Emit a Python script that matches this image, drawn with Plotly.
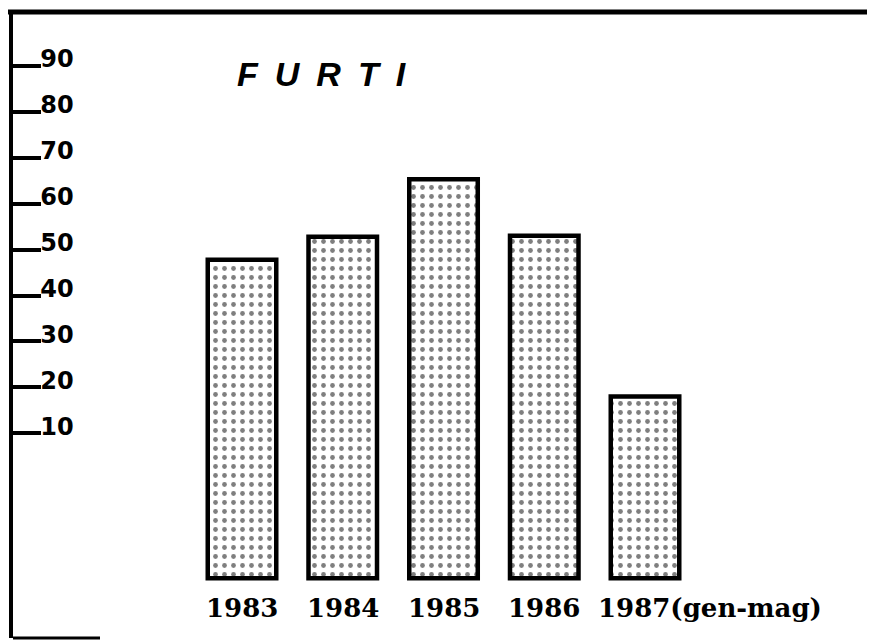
import plotly.graph_objects as go

# ---- data ----
years = ["1983", "1984", "1985", "1986", "1987"]
year_labels = ["1983", "1984", "1985", "1986", "1987(gen-mag)"]
furti = [47.8, 52.8, 65.3, 53.0, 18.0]      # bar tops read against the printed scale
bar_base = -21.6                              # bars start below the printed scale
y_ticks = [10, 20, 30, 40, 50, 60, 70, 80, 90]
title_text = "FURTI"

W, H = 875, 641
OFF = 8  # page offset of the figure div
# plot area in page pixels
PL, PR, PT, PB = 13, 875, 12, 638
L, T = PL - OFF, PT - OFF
R = W - (PR - OFF)
B = H - (PB - OFF)
PW, PH = PR - PL, PB - PT

fig = go.Figure()
fig.add_trace(go.Bar(
    x=list(range(len(years))),
    y=[v - bar_base for v in furti],
    base=[bar_base] * len(years),
    width=0.68,
    marker=dict(
        color="white",
        line=dict(color="black", width=4.5),
        pattern=dict(shape=".", fgcolor="black", bgcolor="white",
                     size=9, solidity=0.22, fillmode="overlay"),
    ),
    hoverinfo="skip",
    showlegend=False,
))

label_y = (PB - 608) / PH
for i, lab in enumerate(year_labels):
    last = i == len(year_labels) - 1
    fig.add_annotation(x=i, xref="x", y=label_y, yref="paper", text=lab,
                       showarrow=False, xanchor="left" if last else "center",
                       yanchor="middle", xshift=-49 if last else 0,
                       font=dict(family="DejaVu Serif", size=26, color="black", weight="bold"))

# title
fig.add_annotation(x=(235 - PL) / PW, xref="paper",
                   y=(PB - 74) / PH, yref="paper",
                   text="\u2002".join(list(title_text)), showarrow=False,
                   xanchor="left", yanchor="middle",
                   font=dict(family="Liberation Sans", size=34, color="black",
                             weight="bold", style="italic"))

# frame lines (top border and short bottom stub)
fig.add_shape(type="line", xref="paper", yref="paper", x0=-0.01, x1=1.01, y0=1.0, y1=1.0,
              line=dict(color="black", width=5))
fig.add_shape(type="line", xref="paper", yref="paper", x0=0, x1=(100 - PL) / PW,
              y0=0.0, y1=0.0, line=dict(color="black", width=3))

px_per_unit = 4.59
ymax = 90 + (66 - PT) / px_per_unit
ymin = ymax - PH / px_per_unit
x_spacing = 100.75
x0_px = 242
xmin = (PL - x0_px) / x_spacing
xmax = (PR - x0_px) / x_spacing

fig.update_layout(
    width=W, height=H,
    margin=dict(l=L, r=R, t=T, b=B, pad=0),
    paper_bgcolor="white", plot_bgcolor="white",
    xaxis=dict(range=[xmin, xmax], showgrid=False, zeroline=False, showline=False,
               showticklabels=False, ticks=""),
    yaxis=dict(range=[ymin, ymax], showgrid=False, zeroline=False,
               showline=True, linecolor="black", linewidth=4,
               tickmode="array", tickvals=y_ticks, ticktext=[str(v) for v in y_ticks],
               ticks="inside", ticklen=28, tickwidth=3.5, tickcolor="black",
               ticklabelposition="inside", ticklabelshift=-7, ticklabelstandoff=1,
               tickfont=dict(family="DejaVu Sans", size=24, color="black", weight="bold")),
)

fig.write_html("out.html")
